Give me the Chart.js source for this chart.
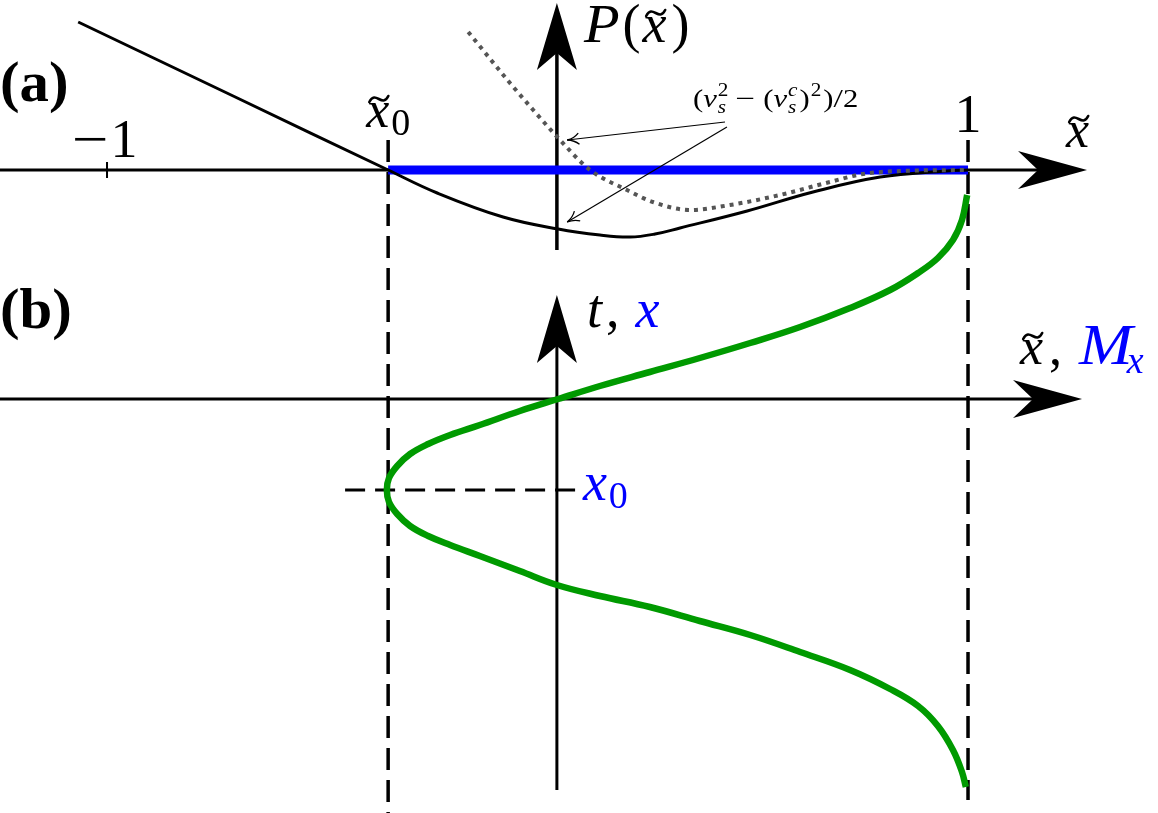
<!DOCTYPE html>
<html><head><meta charset="utf-8">
<script src="https://cdn.jsdelivr.net/npm/chart.js@4/dist/chart.umd.min.js"></script>
<style>html,body{margin:0;padding:0;background:#fff}#wrap{width:1158px;height:813px;position:relative}
</style>
</head><body><div id="wrap"><canvas id="c"></canvas></div>
<script>
// ---------- data (x̃ units; panel (a): P units; panel (b): t units) ----------
const tickValues = [-1, 1];
const tickLabels = ['\u22121', '1'];
const xTilde0 = -0.347;          // turning point x̃0
const xTildeEnd = 1;             // x̃ = 1
const axisPos = 0.045;           // position of the vertical axes
const tAtX0 = -0.455;            // t-level of x0 in panel (b)

// panel (a): potential P(x̃), solid black
const potX = [-1.067, -0.707, -0.347, -0.233, -0.080, 0.048, 0.145, 0.215, 0.273, 0.331, 0.487, 0.640, 0.796, 0.951, 1.000];
const potP = [0.74, 0.37, 0.0, -0.115, -0.235, -0.295, -0.325, -0.335, -0.320, -0.290, -0.205, -0.110, -0.035, -0.005, 0.0];

// panel (a): dotted curve
const dotX = [-0.161, -0.064, -0.010, 0.048, 0.122, 0.208, 0.268, 0.354, 0.447, 0.563, 0.679, 0.756, 0.842, 1.000];
const dotP = [0.69, 0.435, 0.30, 0.16, 0.0, -0.10, -0.16, -0.20, -0.175, -0.125, -0.06, -0.02, -0.005, 0.0];

// panel (b): trajectory, green (x̃ vs t)
const trajX = [0.998, 0.986, 0.965, 0.930, 0.884, 0.819, 0.726, 0.610, 0.494, 0.377, 0.261, 0.145, 0.048, -0.041, -0.134, -0.203, -0.254, -0.296, -0.326, -0.345, -0.350,
               -0.345, -0.326, -0.296, -0.254, -0.203, -0.134, -0.041, 0.045, 0.145, 0.261, 0.377, 0.494, 0.610, 0.726, 0.819, 0.884, 0.930, 0.965, 0.986, 0.995];
const trajT = [1.02, 0.895, 0.795, 0.705, 0.63, 0.545, 0.455, 0.36, 0.28, 0.205, 0.135, 0.065, 0.0, -0.06, -0.13, -0.18, -0.225, -0.275, -0.335, -0.395, -0.455,
               -0.515, -0.575, -0.635, -0.685, -0.73, -0.785, -0.86, -0.93, -0.985, -1.04, -1.11, -1.18, -1.265, -1.355, -1.45, -1.535, -1.635, -1.755, -1.865, -1.94];

// ---------- view ----------
const X_MIN = -1.2486, X_MAX = 1.4413;
const PA_MIN = -3.215, PA_MAX = 0.85;
const TB_MIN = -2.07, TB_MAX = 1.995;

const pts = (xs, ys) => xs.map((x, i) => ({x, y: ys[i]}));
const seg = (x1, y1, x2, y2) => [{x: x1, y: y1}, {x: x2, y: y2}];

function lineDS(data, axis, color, width, extra) {
  return Object.assign({data, yAxisID: axis, borderColor: color, borderWidth: width, showLine: true,
    pointRadius: 0, pointHoverRadius: 0, fill: false, tension: 0, clip: false, borderCapStyle: 'butt'}, extra || {});
}

const datasets = [
  lineDS(pts(trajX, trajT), 'yB', '#009a00', 6.5, {tension: 0.4, order: 0}),
  lineDS(pts(dotX, dotP), 'yA', '#555555', 4, {tension: 0.4, cubicInterpolationMode: 'monotone', borderDash: [4, 5], order: 1}),
  lineDS(pts(potX, potP), 'yA', '#000000', 3, {tension: 0.4, order: 2}),
  lineDS(seg(xTilde0, 0, xTildeEnd, 0), 'yA', '#0000ff', 9, {order: 3}),
  lineDS(seg(xTilde0, 0.15, xTilde0, PA_MIN), 'yA', '#000', 3.5, {borderDash: [22, 10], order: 4}),
  lineDS(seg(xTildeEnd, 0.15, xTildeEnd, -3.15), 'yA', '#000', 3.5, {borderDash: [22, 10], order: 4}),
  lineDS(seg(-0.447, tAtX0, 0.092, tAtX0), 'yB', '#000', 3, {borderDash: [20, 10], order: 4}),
  lineDS(seg(X_MIN, 0, 1.17, 0), 'yA', '#000', 3, {order: 5}),
  lineDS(seg(axisPos, -0.40, axisPos, 0.60), 'yA', '#000', 3.5, {order: 5}),
  lineDS(seg(tickValues[0], 0.04, tickValues[0], -0.04), 'yA', '#000', 2, {order: 5}),
  lineDS(seg(X_MIN, 0, 1.155, 0), 'yB', '#000', 3, {order: 5}),
  lineDS(seg(axisPos, -1.955, axisPos, 0.27), 'yB', '#000', 3, {order: 5})
];

// ---------- drawing helpers ----------
const FAM = '"Liberation Serif", "Times New Roman", serif';
function T(ctx, s, x, y, size, o) {
  o = o || {};
  ctx.font = `${o.italic ? 'italic ' : ''}${o.bold ? 'bold ' : ''}${size}px ${FAM}`;
  ctx.fillStyle = o.color || '#000';
  ctx.textAlign = o.align || 'left';
  ctx.textBaseline = 'alphabetic';
  const sx = o.sx || 1;
  const w = ctx.measureText(s).width * sx;
  ctx.save();
  ctx.translate(x, y);
  ctx.scale(sx, 1);
  ctx.fillText(s, 0, 0);
  ctx.restore();
  return w;
}
function tilde(ctx, cx, cy, w, h, color) {
  ctx.save();
  ctx.strokeStyle = color || '#000';
  ctx.lineWidth = 2.6;
  ctx.lineCap = 'round';
  ctx.beginPath();
  ctx.moveTo(cx - w / 2, cy + h / 2);
  ctx.bezierCurveTo(cx - w / 6, cy - h * 1.6, cx + w / 6, cy + h * 1.6, cx + w / 2, cy - h / 2);
  ctx.stroke();
  ctx.restore();
}
function stealth(ctx, tx, ty, dx, dy, len, half, inset) {
  const px = -dy, py = dx;
  const bx = tx - dx * len, by = ty - dy * len;
  ctx.beginPath();
  ctx.moveTo(tx, ty);
  ctx.lineTo(bx + px * half, by + py * half);
  ctx.lineTo(tx - dx * (len - inset), ty - dy * (len - inset));
  ctx.lineTo(bx - px * half, by - py * half);
  ctx.closePath();
  ctx.fillStyle = '#000';
  ctx.fill();
}
function thinArrow(ctx, x1, y1, x2, y2) {
  ctx.save();
  ctx.strokeStyle = '#000';
  ctx.lineWidth = 1.2;
  ctx.beginPath(); ctx.moveTo(x1, y1); ctx.lineTo(x2, y2); ctx.stroke();
  const a = Math.atan2(y2 - y1, x2 - x1);
  const L = 13;
  ctx.lineWidth = 1.3;
  for (const s of [-1, 1]) {
    const ang = a + Math.PI + s * 0.45;
    const ex = x2 + L * Math.cos(ang), ey = y2 + L * Math.sin(ang);
    const mx = x2 + L * 0.55 * Math.cos(a + Math.PI + s * 0.15), my = y2 + L * 0.55 * Math.sin(a + Math.PI + s * 0.15);
    ctx.beginPath(); ctx.moveTo(ex, ey); ctx.quadraticCurveTo(mx, my, x2, y2); ctx.stroke();
  }
  ctx.restore();
}

const decor = {
  id: 'decor',
  afterDatasetsDraw(chart) {
    const ctx = chart.ctx;
    const sx = chart.scales.x, sa = chart.scales.yA, sb = chart.scales.yB;
    const X = v => sx.getPixelForValue(v), A = v => sa.getPixelForValue(v), B = v => sb.getPixelForValue(v);
    ctx.save();
    // axis arrowheads
    stealth(ctx, X(1.2764), A(0), 1, 0, 69, 19, 20);
    stealth(ctx, X(axisPos), A(0.835), 0, -1, 67, 20, 17);
    stealth(ctx, X(1.2648), B(0), 1, 0, 69, 19, 20);
    stealth(ctx, X(axisPos), B(0.52), 0, -1, 68, 20, 17);

    // panel labels
    T(ctx, '(a)', 0, 101, 56, {bold: true, sx: 1.05});
    T(ctx, '(b)', 0, 328, 56, {bold: true, sx: 1.05});

    // tick labels
    const y0 = A(0);
    T(ctx, '\u2212', X(tickValues[0]) - 17, y0 - 13, 54, {align: 'center', sx: 1.2});
    T(ctx, tickLabels[0].slice(1), X(tickValues[0]) + 17, y0 - 13, 54, {align: 'center'});
    T(ctx, tickLabels[1], X(tickValues[1]), y0 - 38, 54, {align: 'center'});

    // x̃0
    let xl = X(xTilde0) - 22;
    let w = T(ctx, 'x', xl, y0 - 43, 52, {italic: true});
    tilde(ctx, xl + w * 0.55, y0 - 71, 19, 6);
    T(ctx, '0', xl + w + 2, y0 - 35, 38);

    // x̃ (axis a)
    xl = 1066;
    w = T(ctx, 'x', xl, y0 - 23, 52, {italic: true});
    tilde(ctx, xl + w * 0.55, y0 - 51, 19, 6);

    // P(x̃)
    xl = X(axisPos) + 27;
    w = T(ctx, 'P', xl, 42, 54, {italic: true, sx: 1.08}); xl += w + 3;
    w = T(ctx, '(', xl, 42, 54); xl += w + 2;
    w = T(ctx, 'x', xl, 42, 54, {italic: true});
    tilde(ctx, xl + w * 0.55, 13, 19, 6); xl += w + 5;
    T(ctx, ')', xl, 42, 54);

    // annotation (v_s^2 - (v_s^c)^2)/2
    let ax = 693; const ab = 107, fs = 26, ss = 18, k = 1.18;
    ax += T(ctx, '(', ax, ab, fs, {sx: k});
    ax += T(ctx, 'v', ax, ab, fs, {italic: true, sx: k});
    let w1 = T(ctx, '2', ax + 1, ab - 11, ss, {sx: k});
    let w2 = T(ctx, 's', ax + 1, ab + 6, ss, {italic: true, sx: k});
    ax += Math.max(w1, w2) + 8;
    ax += T(ctx, '\u2212', ax, ab, fs, {sx: 1.35}) + 8;
    ax += T(ctx, '(', ax, ab, fs, {sx: k});
    ax += T(ctx, 'v', ax, ab, fs, {italic: true, sx: k});
    w1 = T(ctx, 'c', ax + 1, ab - 11, ss, {italic: true, sx: k});
    w2 = T(ctx, 's', ax + 1, ab + 6, ss, {italic: true, sx: k});
    ax += Math.max(w1, w2) + 3;
    ax += T(ctx, ')', ax, ab, fs, {sx: k});
    ax += T(ctx, '2', ax + 1, ab - 11, ss, {sx: k}) + 3;
    ax += T(ctx, ')', ax, ab, fs, {sx: k});
    ax += T(ctx, '/', ax, ab, fs, {sx: 1.3});
    T(ctx, '2', ax, ab, fs, {sx: k});

    // annotation arrows
    thinArrow(ctx, X(0.4355), A(0.24), X(0.069), A(0.15));
    thinArrow(ctx, X(0.440), A(0.215), X(0.069), A(-0.26));

    // panel (b) labels
    const yb = B(0);
    xl = X(axisPos) + 30;
    w = T(ctx, 't', xl, yb - 72, 54, {italic: true}); xl += w + 4;
    w = T(ctx, ',', xl, yb - 72, 54); xl += w + 16;
    T(ctx, 'x', xl, yb - 72, 54, {italic: true, color: '#0000ff'});

    xl = 1020;
    w = T(ctx, 'x', xl, yb - 35, 52, {italic: true});
    tilde(ctx, xl + w * 0.55, yb - 63, 19, 6);
    xl += w + 6;
    w = T(ctx, ',', xl, yb - 35, 52); xl += w + 17;
    w = T(ctx, 'M', xl, yb - 35, 56, {italic: true, color: '#0000ff', sx: 1.15}); xl += w - 6;
    T(ctx, 'x', xl, yb - 26, 38, {italic: true, color: '#0000ff'});

    const yx0 = B(tAtX0);
    xl = X(axisPos) + 26;
    w = T(ctx, 'x', xl, yx0 + 10, 54, {italic: true, color: '#0000ff'});
    T(ctx, '0', xl + w + 2, yx0 + 18, 38, {color: '#0000ff'});
    ctx.restore();
  }
};

new Chart(document.getElementById('c'), {
  type: 'scatter',
  data: {datasets},
  options: {
    responsive: true, maintainAspectRatio: false, animation: false, events: [],
    layout: {padding: 0},
    plugins: {legend: {display: false}, tooltip: {enabled: false}},
    scales: {
      x: {type: 'linear', display: false, min: X_MIN, max: X_MAX},
      yA: {type: 'linear', display: false, min: PA_MIN, max: PA_MAX},
      yB: {type: 'linear', display: false, min: TB_MIN, max: TB_MAX}
    }
  },
  plugins: [decor]
});
</script></body></html>
